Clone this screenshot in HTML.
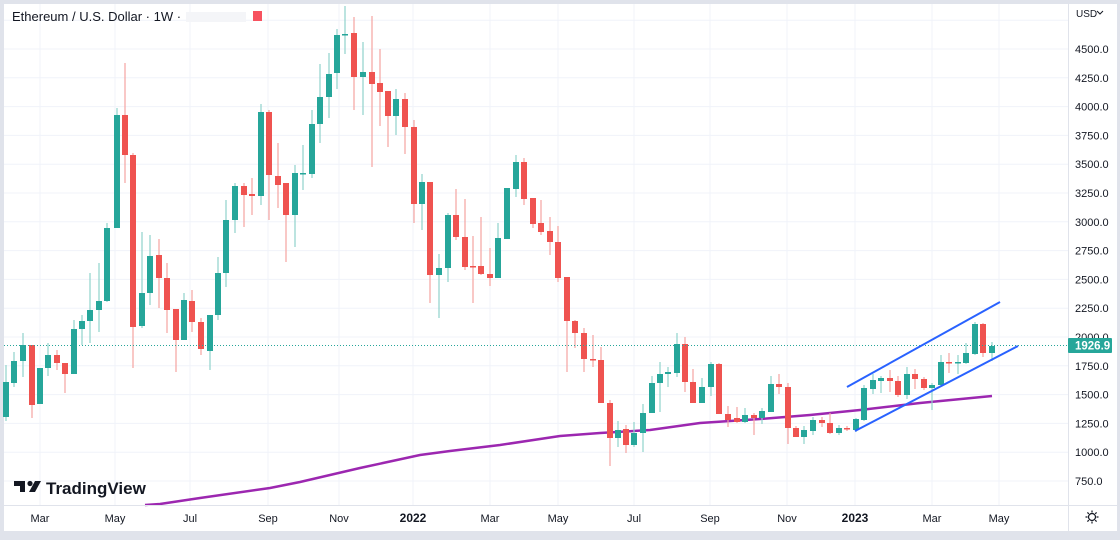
<!DOCTYPE html>
<html><head><meta charset="utf-8">
<style>
html,body{margin:0;padding:0;background:#e0e3eb;}
body{width:1120px;height:535px;overflow:hidden;font-family:"Liberation Sans",sans-serif;}
svg text{font-family:"Liberation Sans",sans-serif;}
</style></head><body>
<svg id="c" width="1120" height="535" xmlns="http://www.w3.org/2000/svg">
<rect x="4" y="4" width="1113" height="527" fill="#ffffff"/>
<g id="grid"></g>
<g id="ma"></g>
<g id="candles"></g>
<line x1="4" y1="345.5" x2="1068" y2="345.5" stroke="#26a69a" stroke-width="1" stroke-dasharray="1,2"/>
<line x1="847" y1="387" x2="1000" y2="302" stroke="#2962ff" stroke-width="2"/>
<line x1="855" y1="431" x2="1018" y2="346" stroke="#2962ff" stroke-width="2"/>
<line x1="1068.5" y1="4" x2="1068.5" y2="531" stroke="#e0e3eb"/>
<line x1="4" y1="505.5" x2="1117" y2="505.5" stroke="#e0e3eb"/>
<g id="ylab" font-size="11" fill="#131722"></g>
<rect x="1068" y="338" width="44" height="15" fill="#26a69a" rx="1"/>
<text x="1075" y="349.5" font-size="11.5" font-weight="bold" fill="#fff">1926.9</text>
<g id="xlab" font-size="11" fill="#131722"></g>
<text x="1076" y="17" font-size="10" fill="#131722">USD</text>
<path d="M1097 11 l3 3 l3 -3" fill="none" stroke="#131722" stroke-width="1"/>
<g transform="translate(1092,517)" fill="none" stroke="#131722" stroke-width="1.2">
<circle r="3.5"/>
<path d="M0 -6.5V-4.5M0 4.5V6.5M-6.5 0H-4.5M4.5 0H6.5M-4.6 -4.6L-3.2 -3.2M3.2 3.2L4.6 4.6M-4.6 4.6L-3.2 3.2M3.2 -3.2L4.6 -4.6"/>
</g>
<text x="12" y="21" font-size="13" fill="#131722">Ethereum / U.S. Dollar · 1W ·</text>
<rect x="186" y="12" width="60" height="10" fill="#f4f5f8"/>
<rect x="253" y="11" width="9" height="10" fill="#f7525f"/>
<g fill="#131722">
<path d="M14 481h11v11h-5v-6h-6z"/>
<circle cx="30" cy="483.5" r="2.6"/>
<path d="M35 481h6l-6 11h-6z"/>
</g>
<text x="46" y="494" font-size="17" font-weight="bold" fill="#131722">TradingView</text>
</svg>
<script>
var NS="http://www.w3.org/2000/svg";
function el(p,t,a,txt){var e=document.createElementNS(NS,t);for(var k in a)e.setAttribute(k,a[k]);if(txt)e.textContent=txt;document.getElementById(p).appendChild(e);}
// grid horizontal
for(var p=750;p<=4750;p+=250){var y=49+(4500-p)*0.1152;el("grid","line",{x1:4,x2:1068,y1:y,y2:y,stroke:"#f0f3fa"});
 if(p<=4500)el("ylab","text",{x:1075,y:y+4},p.toFixed(1));}
var xl=[[40,"Mar"],[115,"May"],[190,"Jul"],[268,"Sep"],[339,"Nov"],[413,"2022",1],[490,"Mar"],[558,"May"],[634,"Jul"],[710,"Sep"],[787,"Nov"],[855,"2023",1],[932,"Mar"],[999,"May"]];
xl.forEach(function(a){el("grid","line",{x1:a[0],x2:a[0],y1:4,y2:505,stroke:"#f0f3fa"});
 el("xlab","text",{x:a[0],y:522,"text-anchor":"middle","font-weight":a[2]?"bold":"normal","font-size":a[2]?"12":"11"},a[1]);});
// MA
el("ma","polyline",{points:"145,505 160,504 200,498 270,488 300,482 360,468 420,455 450,451 500,445 560,436 600,433 650,430 700,423 760,419 810,415 860,410 920,403 992,396",fill:"none",stroke:"#9c27b0","stroke-width":"2.5"});
// candles [x, open, close, high, low] in px
var C=[[6,417,382,365,421],[14,383,361,352,387],[23,361,345,333,377],[32,345,405,345,418],[40,404,368,368,404],[48,368,355,343,376],[57,355,363,350,370],[65,363,374,363,393],[74,374,329,320,374],[82,329,321,315,345],[90,321,310,273,343],[99,310,301,263,332],[107,301,228,223,302],[117,228,115,108,228],[125,115,155,63,183],[133,155,327,153,368],[142,326,293,232,328],[150,293,256,235,305],[159,255,278,239,308],[167,278,310,263,333],[176,309,340,309,372],[184,340,300,293,340],[192,301,322,290,332],[201,322,349,318,355],[210,351,315,315,370],[218,315,273,257,320],[226,273,220,200,287],[235,220,186,183,233],[244,186,195,183,227],[252,194,196,178,215],[261,196,112,104,205],[269,112,175,110,220],[278,176,185,143,208],[286,183,215,183,262],[295,215,173,165,247],[303,174,173,145,190],[312,174,124,110,178],[320,124,97,64,143],[329,97,74,53,118],[337,73,35,29,89],[345,35,34,6,54],[354,33,77,17,110],[363,77,72,42,115],[372,72,84,16,167],[380,83,92,49,126],[388,91,116,91,147],[396,116,99,89,135],[405,99,127,93,154],[414,127,204,120,223],[422,204,182,174,230],[430,182,275,182,303],[439,275,268,254,318],[448,268,215,213,282],[456,215,237,189,240],[465,237,267,199,270],[473,266,267,236,303],[481,266,274,217,275],[490,274,278,248,286],[498,278,238,223,278],[507,239,188,188,239],[516,189,162,155,197],[524,162,199,158,205],[533,198,224,198,228],[541,223,232,200,235],[550,231,242,217,255],[558,242,278,226,282],[567,277,321,277,372],[575,321,333,320,348],[584,333,359,328,372],[593,359,360,335,367],[601,360,403,347,403],[610,403,438,400,466],[618,438,430,421,447],[626,429,445,425,453],[634,445,433,422,447],[643,433,413,404,452],[652,413,383,376,413],[660,383,374,362,412],[668,374,372,367,387],[677,373,344,333,377],[685,344,382,337,392],[693,382,403,369,403],[702,403,387,378,403],[711,387,364,362,396],[719,364,414,363,414],[728,414,420,406,427],[737,418,422,407,423],[745,422,415,408,423],[754,415,418,413,435],[762,418,411,408,424],[771,412,384,376,412],[779,384,387,374,394],[788,387,428,383,444],[796,428,437,426,437],[804,437,430,426,444],[813,431,420,417,435],[822,420,423,417,427],[830,423,433,413,434],[839,433,428,425,435],[847,428,429,426,431],[856,430,419,418,432],[864,420,388,385,421],[873,389,380,374,394],[881,381,378,376,393],[890,378,381,370,392],[898,381,395,376,397],[907,395,374,367,399],[915,374,379,369,389],[924,379,388,377,390],[932,388,385,383,410],[941,385,362,355,386],[949,362,363,353,373],[958,363,362,355,374],[966,363,353,343,364],[975,354,324,322,355],[983,324,353,323,357],[992,353,346,342,361]];
C.forEach(function(c){var up=c[2]<=c[1]&&!(c[2]==c[1]);var g=c[2]<c[1];var col=g?"#26a69a":"#ef5350";var wc=g?"#8fd3cb":"#f5a3a1";
 el("candles","line",{x1:c[0],x2:c[0],y1:c[3],y2:c[4],stroke:wc,"stroke-width":"1.2"});
 var t=Math.min(c[1],c[2]),h=Math.max(1.5,Math.abs(c[1]-c[2]));
 el("candles","rect",{x:c[0]-3,y:t,width:6,height:h,fill:col});});
</script>
</body></html>
